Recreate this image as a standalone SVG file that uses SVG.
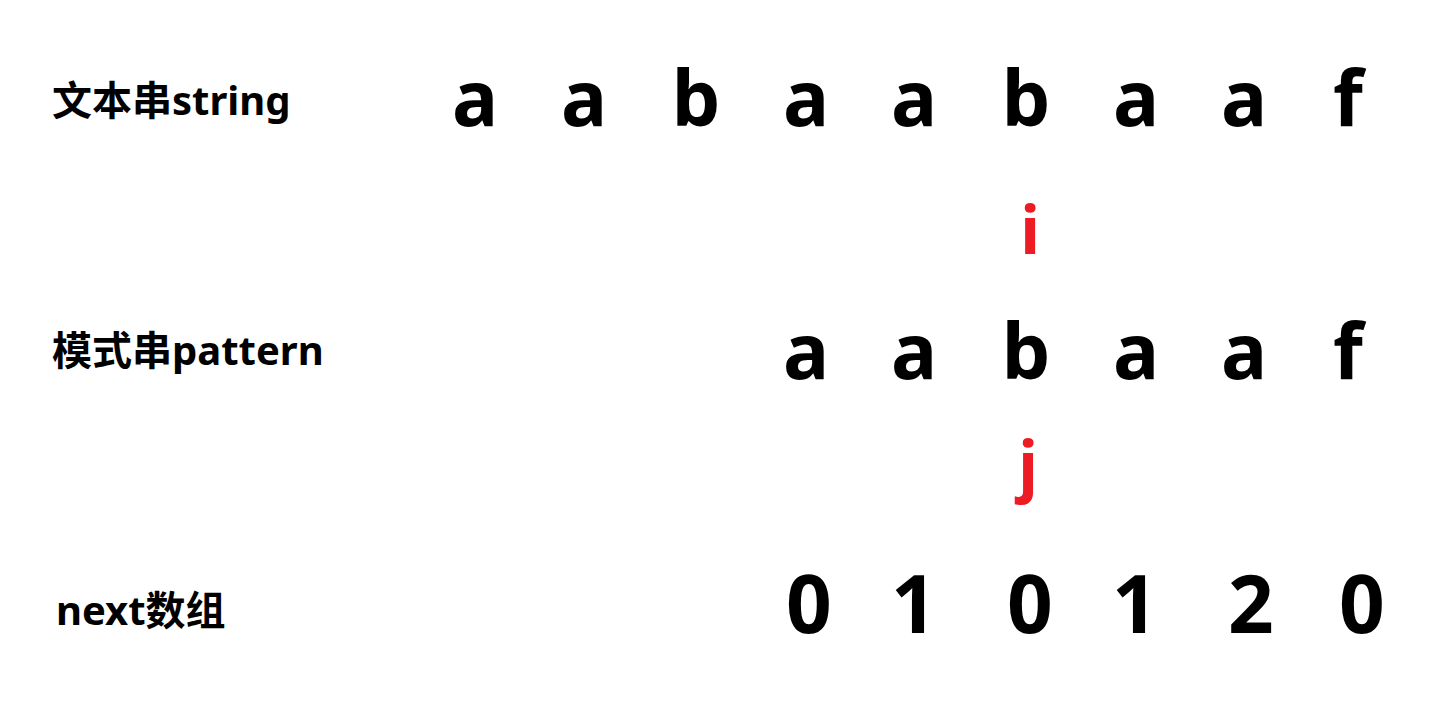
<svg xmlns="http://www.w3.org/2000/svg" width="1455" height="715" viewBox="0 0 1455 715">
<style>
.lbl{font-family:"Noto Sans","Noto Sans CJK SC",sans-serif;font-weight:bold;font-size:40px;fill:#000}
.ch{font-family:"Noto Sans",sans-serif;font-weight:bold;font-size:77px;fill:#000;text-anchor:middle}
.num{font-family:"Noto Sans",sans-serif;font-weight:bold;font-size:80px;fill:#000;text-anchor:middle}
.ptr{font-family:"Noto Sans",sans-serif;font-weight:bold;font-size:66px;fill:#ED1C24;text-anchor:middle}
</style>
<rect width="1455" height="715" fill="#fff"/>
<g id="labels">
<text class="lbl" x="52" y="115">文本串string</text>
<text class="lbl" x="52" y="365">模式串pattern</text>
<text class="lbl" x="56" y="625">next数组</text>
</g>
<g id="string">
<text class="ch" x="475" y="126">a</text>
<text class="ch" x="584" y="126">a</text>
<text class="ch" x="696" y="126">b</text>
<text class="ch" x="806" y="126">a</text>
<text class="ch" x="914" y="126">a</text>
<text class="ch" x="1026" y="126">b</text>
<text class="ch" x="1136" y="126">a</text>
<text class="ch" x="1244" y="126">a</text>
<text class="ch" x="1348" y="126">f</text>
</g>
<g id="pointer-i"><text class="ptr" x="1030" y="254">i</text></g>
<g id="pattern">
<text class="ch" x="806" y="379">a</text>
<text class="ch" x="914" y="379">a</text>
<text class="ch" x="1026" y="379">b</text>
<text class="ch" x="1136" y="379">a</text>
<text class="ch" x="1244" y="379">a</text>
<text class="ch" x="1348" y="379">f</text>
</g>
<g id="pointer-j"><text class="ptr" x="1028" y="489">j</text></g>
<g id="next">
<text class="num" x="809" y="633">0</text>
<text class="num" x="914" y="633">1</text>
<text class="num" x="1030" y="633">0</text>
<text class="num" x="1135" y="633">1</text>
<text class="num" x="1251" y="633">2</text>
<text class="num" x="1362" y="633">0</text>
</g>
<g id="connectors"></g>
</svg>
